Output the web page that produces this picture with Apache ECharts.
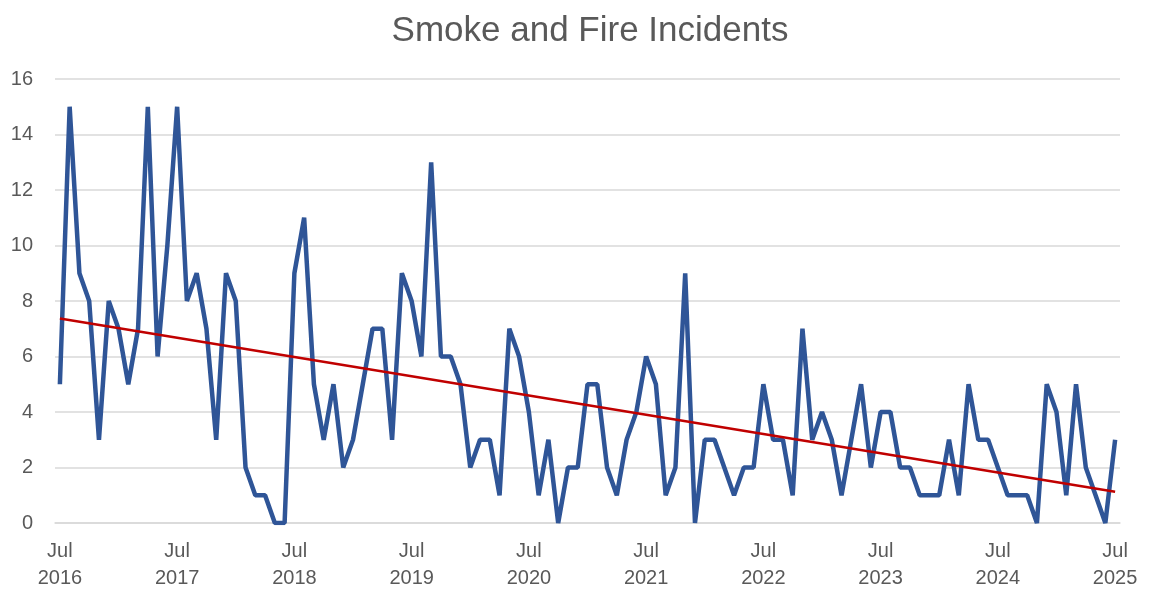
<!DOCTYPE html>
<html>
<head>
<meta charset="utf-8">
<script src="https://cdn.jsdelivr.net/npm/echarts@6/dist/echarts.min.js"></script>
<style>html,body{margin:0;padding:0;background:#fff}#c{width:1149px;height:592px}</style>
</head>
<body>
<div id="c"></div>
<script>
// Monthly data, Jul 2016 .. Jul 2025
const startYear = 2016;
const startMonth = 6; // July (0-based)
const monthNames = ["Jan","Feb","Mar","Apr","May","Jun","Jul","Aug","Sep","Oct","Nov","Dec"];
const incidents = [
  5,15,9,8,3,8,7,5,7,15,6,10,
  15,8,9,7,3,9,8,2,1,1,0,0,
  9,11,5,3,5,2,3,5,7,7,3,9,
  8,6,13,6,6,5,2,3,3,1,7,6,
  4,1,3,0,2,2,5,5,2,1,3,4,
  6,5,1,2,9,0,3,3,2,1,2,2,
  5,3,3,1,7,3,4,3,1,3,5,2,
  4,4,2,2,1,1,1,3,1,5,3,3,
  2,1,1,1,0,5,4,1,5,2,1,0,
  3
];
const trendEnds = [7.37, 1.13]; // linear trendline read at first and last month
const yTicks = [0, 16, 2];      // min, max, interval

const categories = incidents.map((_, i) => {
  const m = (startMonth + i) % 12;
  const y = startYear + Math.floor((startMonth + i) / 12);
  return monthNames[m] + " " + y;
});
const trendData = categories.map((c, i) =>
  i === 0 ? trendEnds[0] : (i === categories.length - 1 ? trendEnds[1] : null));

const chart = echarts.init(document.getElementById('c'));
const font = 'Liberation Sans, Arial, sans-serif';
chart.setOption({
  animation: false,
  title: {
    text: 'Smoke and Fire Incidents',
    left: 585, top: 9, textAlign: 'center',
    textStyle: { fontFamily: font, fontSize: 35, fontWeight: 'normal', color: '#595959' }
  },
  grid: { left: 55, right: 29, top: 79, bottom: 65 },
  xAxis: {
    type: 'category',
    data: categories,
    boundaryGap: true,
    axisLine: { show: true, lineStyle: { color: '#d9d9d9', width: 1.5 } },
    axisTick: { show: false },
    splitLine: { show: false },
    axisLabel: {
      interval: (i) => i % 12 === 0,
      formatter: (v) => v.replace(' ', '\n'),
      fontFamily: font, fontSize: 20, color: '#595959',
      lineHeight: 27, margin: 15
    }
  },
  yAxis: {
    type: 'value',
    min: yTicks[0], max: yTicks[1], interval: yTicks[2],
    axisLine: { show: false },
    axisTick: { show: false },
    splitLine: { lineStyle: { color: '#d9d9d9', width: 1.5 } },
    axisLabel: { fontFamily: font, fontSize: 20, color: '#595959', margin: 22 }
  },
  series: [
    {
      name: 'Incidents', type: 'line', data: incidents,
      symbol: 'none',
      lineStyle: { color: '#2f5597', width: 4.5, join: 'bevel' },
      itemStyle: { color: '#2f5597' }
    },
    {
      name: 'Trend', type: 'line', data: trendData,
      connectNulls: true, symbol: 'none',
      lineStyle: { color: '#c00000', width: 2.5 },
      z: 3
    }
  ]
});
</script>
</body>
</html>
